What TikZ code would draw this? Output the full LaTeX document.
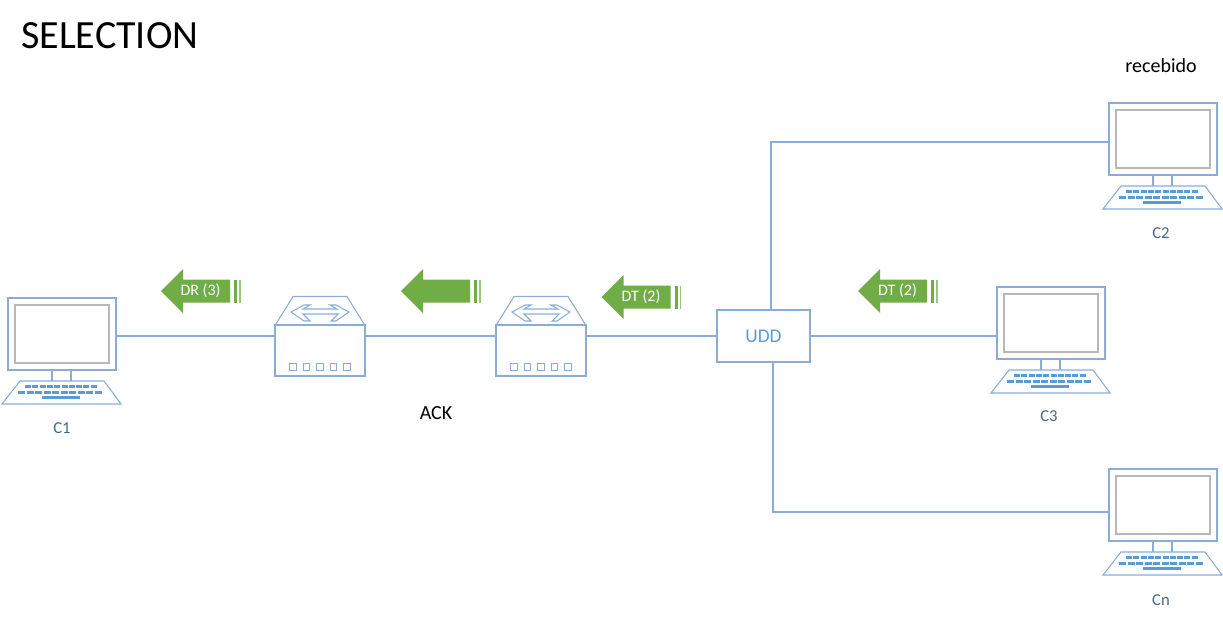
\documentclass[tikz,border=0pt]{standalone}
\usepackage{fontspec}
\setmainfont{Carlito}
\usepackage{tikz}
\usetikzlibrary{positioning}

\definecolor{linkblue}{HTML}{8AADD8}
\definecolor{keyblue}{HTML}{5B9BD5}
\definecolor{flowgreen}{HTML}{70AD47}
\definecolor{labelblue}{HTML}{44688C}

\tikzset{
	link/.style={draw=linkblue, line width=0.8pt},
	monitor/.style={draw=linkblue, line width=0.8pt, fill=white, rectangle, inner sep=0pt, minimum width=81pt, minimum height=54pt},
	screen/.style={draw=black!28, line width=0.8pt, fill=white, rectangle, inner sep=0pt, minimum width=70.5pt, minimum height=43.5pt},
	swbox/.style={draw=linkblue, line width=0.8pt, fill=white, rectangle, inner sep=0pt, minimum width=67.5pt, minimum height=38.25pt},
	port/.style={draw=linkblue, line width=0.7pt, fill=white, rectangle, inner sep=0pt, minimum size=5pt},
	hub/.style={draw=linkblue, line width=0.8pt, fill=white, rectangle, inner sep=0pt, minimum width=69.75pt, minimum height=39pt, text=keyblue, font=\fontsize{14.5}{17}\selectfont},
	caption/.style={inner sep=0pt, text=labelblue, font=\fontsize{12.5}{15}\selectfont},
	note/.style={inner sep=0pt, text=black, font=\fontsize{15}{18}\selectfont},
	computer/.pic={
		\node[monitor] (mon) at (0,0) {};
		\node[screen] (scr) at (0,0) {};
		\draw[link] (-10,36) -- (-10,47) (9,36) -- (9,47);
		\draw[link] (-42,47) -- (42,47) -- (59,70) -- (-60,70) -- cycle;
		\foreach \i in {0,...,9} {
			\fill[keyblue] (-37+\i*7.3,51) rectangle ++(6,3);
			\fill[keyblue] (-44+\i*8.5,57) rectangle ++(7,3);
		}
		\fill[keyblue] (-20,62) rectangle (18,65);
	},
	switch/.pic={
		\draw[link] (-45,-25) -- (-27,-54) -- (27,-54) -- (45,-25);
		\node[swbox] (box) at (0,0) {};
		\draw[link] (-29,-38.5) -- (-16,-45.5) -- (-10,-45.5) -- (-17,-41.5) -- (17,-41.5) -- (10,-45.5) -- (16,-45.5) -- (29,-38.5)
			-- (16,-29.5) -- (11,-29.5) -- (18,-36.5) -- (-17,-36.5) -- (-10,-29.5) -- (-16,-29.5) -- cycle;
		\foreach \i in {-2,...,2}
			\node[port] (p\i) at (\i*13.6,16.5) {};
	},
	flow/.pic={
		\fill[flowgreen] (0,0) -- (22,-22) -- (22,-11.5) -- (69,-11.5) -- (69,11.5) -- (22,11.5) -- (22,22) -- cycle;
		\fill[flowgreen] (73,-11.5) rectangle (76,11.5);
		\fill[flowgreen!70] (78,-11.5) rectangle (79.5,11.5);
		\node[inner sep=0pt, text=white, font=\fontsize{12}{14}\selectfont] (txt) at (39.5,0) {#1};
	}
}

\begin{document}
\begin{tikzpicture}[x=0.75pt,y=-0.75pt]

	\useasboundingbox (0,0) rectangle (1223,618);

	\node[inner sep=0pt, anchor=west, font=\fontsize{30}{36}\selectfont] (TITLE) at (21,36) {SELECTION};

	\coordinate (J2) at (771,142);
	\coordinate (Jn) at (773,512);

	% links first, the boxes sit on top
	\pic (C1) at (62,334) {computer};
	\pic (C2) at (1163,139) {computer};
	\pic (C3) at (1051,323) {computer};
	\pic (Cn) at (1163,505) {computer};
	\pic (S1) at (320,350.5) {switch};
	\pic (S2) at (541,350.5) {switch};
	\node[hub] (UDD) at (763.5,336) {UDD};

	\draw[link] (C1mon.east |- UDD.west) -- (S1box.west |- UDD.west);
	\draw[link] (S1box.east |- UDD.west) -- (S2box.west |- UDD.west);
	\draw[link] (S2box.east |- UDD.west) -- (UDD.west);
	\draw[link] (UDD.east) -- (C3mon.west |- UDD.east);
	\draw[link] (UDD.north -| J2) -- (J2) -- (C2mon.west |- J2);
	\draw[link] (UDD.south -| Jn) -- (Jn) -- (Cnmon.west |- Jn);

	\pic (F1) at (161,291) {flow={DR (3)}};
	\pic (F2) at (401,291) {flow={}};
	\pic (F3) at (601.5,297) {flow={DT (2)}};
	\pic (F4) at (858,291) {flow={DT (2)}};

	\node[caption] (L1) at (62,428) {C1};
	\node[caption] (L2) at (1161,233) {C2};
	\node[caption] (L3) at (1049,416) {C3};
	\node[caption] (Ln) at (1161,600) {Cn};

	\node[note] (ACK) at (436,413) {ACK};
	\node[note] (REC) at (1161,66) {recebido};

\end{tikzpicture}
\end{document}
